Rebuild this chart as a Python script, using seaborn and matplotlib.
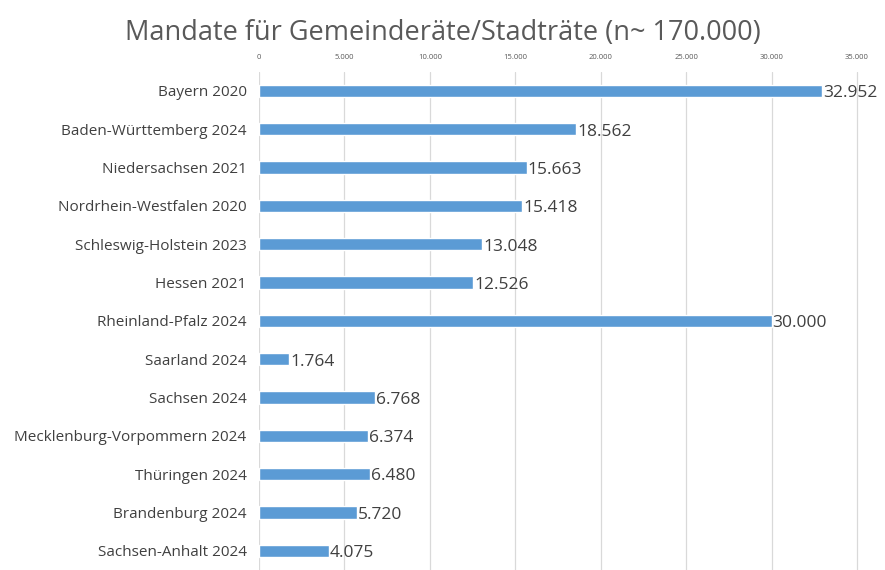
import matplotlib
matplotlib.use("Agg")
import matplotlib.pyplot as plt
import seaborn as sns
import pandas as pd

categories = ["Bayern 2020", "Baden-Württemberg 2024", "Niedersachsen 2021",
              "Nordrhein-Westfalen 2020", "Schleswig-Holstein 2023", "Hessen 2021",
              "Rheinland-Pfalz 2024", "Saarland 2024", "Sachsen 2024",
              "Mecklenburg-Vorpommern 2024", "Thüringen 2024", "Brandenburg 2024",
              "Sachsen-Anhalt 2024"]
values = [32952, 18562, 15663, 15418, 13048, 12526, 30000, 1764, 6768, 6374, 6480, 5720, 4075]
xticks = [0, 5000, 10000, 15000, 20000, 25000, 30000, 35000]
title = "Mandate für Gemeinderäte/Stadträte (n~ 170.000)"

def de(v):
    return f"{v:,}".replace(",", ".")

sns.set_theme(style="white")
plt.rcParams["font.family"] = ["Open Sans", "DejaVu Sans"]

df = pd.DataFrame({"cat": categories, "val": values})
fig = plt.figure(figsize=(8.85, 5.70), dpi=100)
ax = fig.add_axes([0.2927, 0.0, 0.695, 0.874])
sns.barplot(data=df, y="cat", x="val", orient="h", color="#5B9BD5", width=0.32,
            saturation=1, ax=ax, zorder=3)
ax.set_xlim(0, 36000)
ax.set_ylim(12.5, -0.5)
ax.set_xticks(xticks)
ax.set_xticklabels([de(v) for v in xticks], fontsize=5.5, color="#595959")
ax.xaxis.tick_top()
ax.tick_params(axis="x", length=0, pad=8)
ax.tick_params(axis="y", length=0, pad=9, labelsize=11, labelcolor="#404040")
ax.grid(axis="x", color="#d9d9d9", linewidth=0.9, zorder=0)
ax.set_xlabel("")
ax.set_ylabel("")
for s in ax.spines.values():
    s.set_visible(False)
for i, v in enumerate(values):
    ax.text(v + 60, i + 0.06, de(v), va="center", ha="left", fontsize=12.5, color="#404040")
fig.text(0.5, 0.942, title, ha="center", va="center", fontsize=19.5, color="#595959")
fig.savefig("out.png", dpi=100)
